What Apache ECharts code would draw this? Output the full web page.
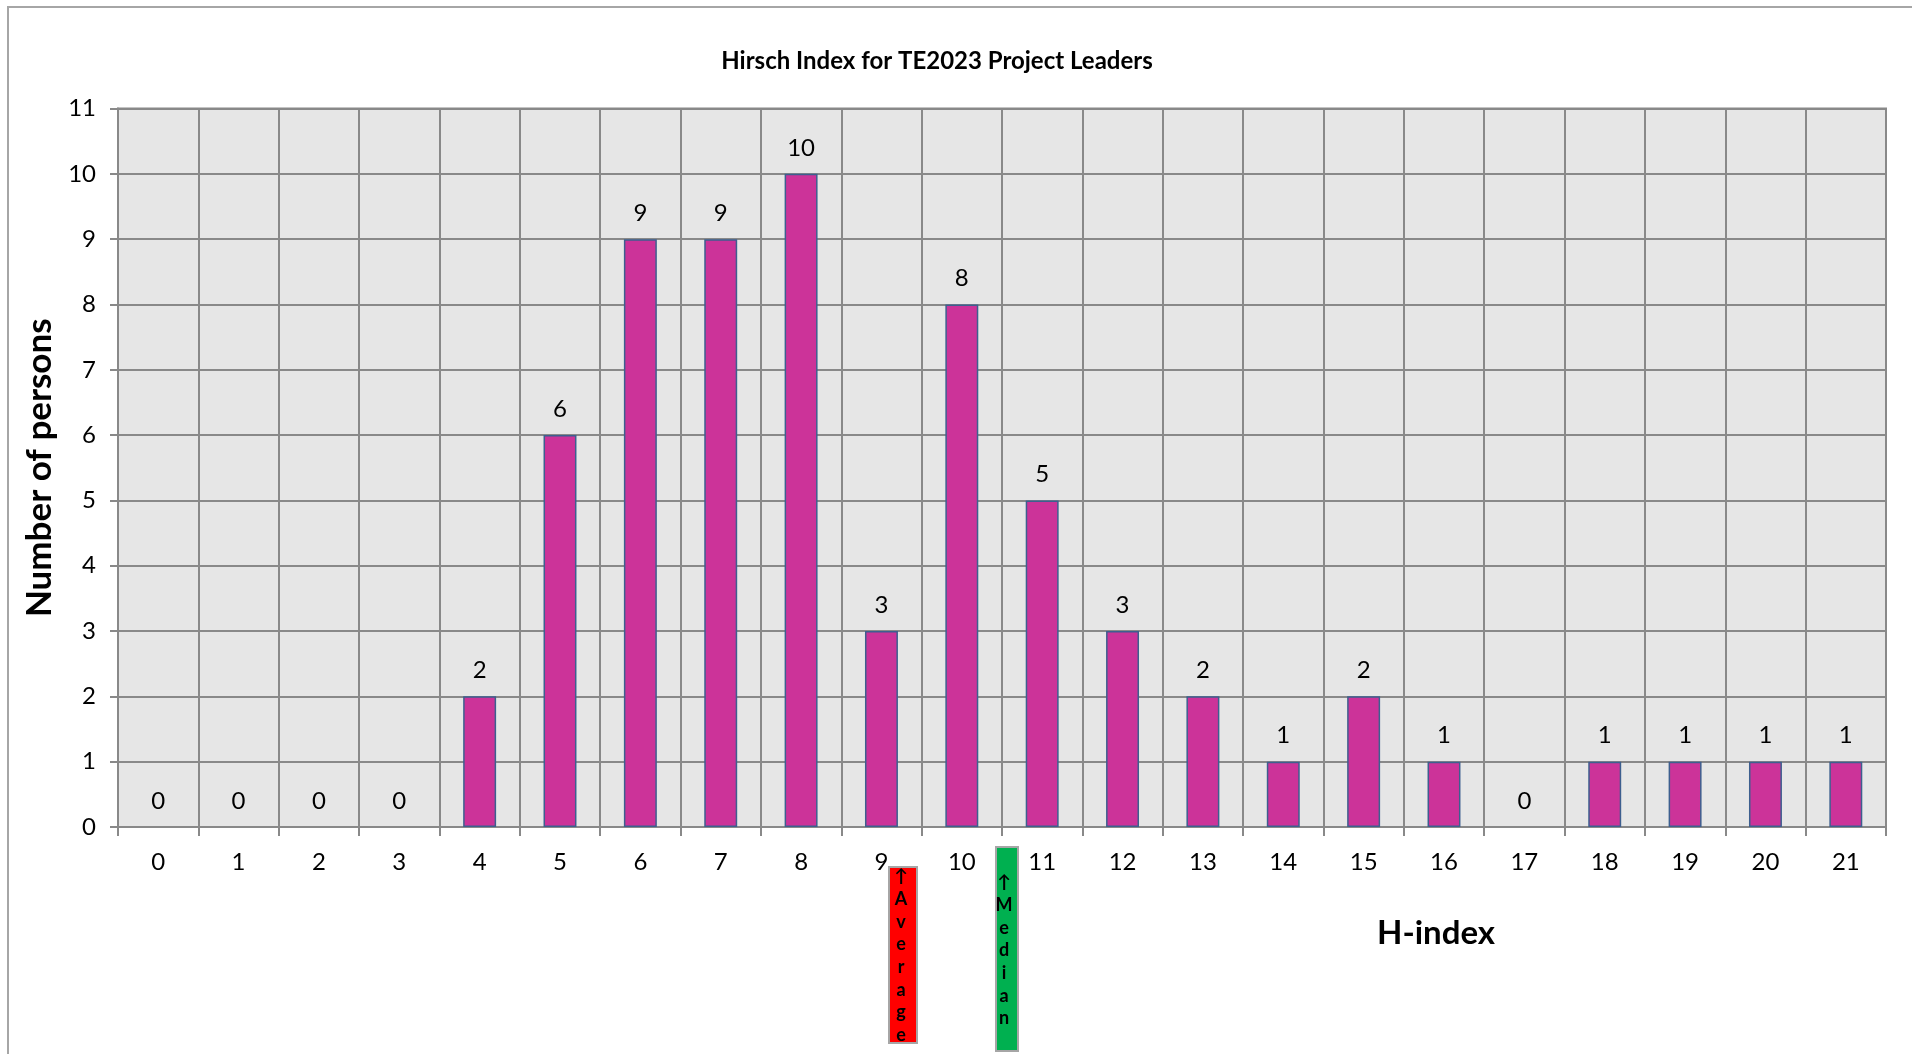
<!DOCTYPE html>
<html>
<head>
<meta charset="utf-8">
<script src="https://cdn.jsdelivr.net/npm/echarts@6/dist/echarts.min.js"></script>
<style>
html,body{margin:0;padding:0;background:#fff;}
#chart{width:1912px;height:1054px;}
</style>
</head>
<body>
<div id="chart"></div>
<script>
// ---- data ----
const hIndexCategories = ['0','1','2','3','4','5','6','7','8','9','10','11','12','13','14','15','16','17','18','19','20','21'];
const personCounts = [0,0,0,0,2,6,9,9,10,3,8,5,3,2,1,2,1,0,1,1,1,1];
const chartTitle = 'Hirsch Index for TE2023 Project Leaders';
const yAxisTitle = 'Number of persons';
const xAxisTitle = 'H-index';
const averageText = ['↑','A','v','e','r','a','g','e'];
const medianText = ['↑','M','e','d','i','a','n'];

const FONT = 'Lato, "Noto Sans", sans-serif';
const GRID = '#898989';

const barData = personCounts.map(v => v === 0 ? {value: v, itemStyle: {borderWidth: 0}} : v);

const chart = echarts.init(document.getElementById('chart'), null, {renderer:'canvas'});
chart.setOption({
  animation: false,
  backgroundColor: '#ffffff',
  title: {
    text: chartTitle,
    left: 932, top: 44, textAlign: 'center',
    textStyle: {fontFamily: FONT, fontSize: 24, fontWeight: 'bold', color: '#000'}
  },
  grid: {
    left: 118, right: 26, top: 108.5, bottom: 227,
    show: true, backgroundColor: '#e6e6e6', borderColor: GRID, borderWidth: 2
  },
  xAxis: {
    type: 'category',
    data: hIndexCategories,
    boundaryGap: true,
    axisLine: {show: true, lineStyle: {color: GRID, width: 2}},
    axisTick: {show: true, interval: 0, length: 9, lineStyle: {color: GRID, width: 2}},
    splitLine: {show: true, interval: 0, lineStyle: {color: GRID, width: 2}},
    axisLabel: {interval: 0, margin: 23, fontFamily: FONT, fontSize: 24, color: '#000'}
  },
  yAxis: {
    type: 'value', min: 0, max: 11, interval: 1,
    name: yAxisTitle, nameLocation: 'middle', nameGap: 60, nameRotate: 90,
    nameTextStyle: {fontFamily: FONT, fontSize: 35, fontWeight: 'bold', color: '#000'},
    axisLine: {show: true, lineStyle: {color: GRID, width: 2}},
    axisTick: {show: true, length: 8, lineStyle: {color: GRID, width: 2}},
    splitLine: {show: true, lineStyle: {color: GRID, width: 2}},
    axisLabel: {margin: 22, fontFamily: FONT, fontSize: 24, color: '#000'}
  },
  series: [{
    type: 'bar',
    data: barData,
    barWidth: '41%',
    itemStyle: {color: '#cc3399', borderColor: '#3d5f8f', borderWidth: 1.5},
    label: {show: true, position: 'top', distance: 14, fontFamily: FONT, fontSize: 24, color: '#000'}
  }],
  graphic: [
    {type: 'rect', shape: {x: 8, y: 7, width: 1930, height: 1100},
     style: {fill: 'none', stroke: '#a6a6a6', lineWidth: 2}, silent: true},
    {type: 'text', left: 1433 - 56, top: 917,
     style: {text: xAxisTitle, font: 'bold 33px ' + FONT, fill: '#000'}},
    {type: 'rect', shape: {x: 889, y: 867, width: 28, height: 176},
     style: {fill: '#ff0000', stroke: '#a6a6a6', lineWidth: 2}},
    {type: 'text', x: 901, y: 865,
     style: {text: averageText.join('\n'), font: 'bold 18px ' + FONT, lineHeight: 22.7,
             fill: '#000', align: 'center', verticalAlign: 'top'}},
    {type: 'rect', shape: {x: 996, y: 847, width: 22, height: 204},
     style: {fill: '#00b050', stroke: '#a6a6a6', lineWidth: 2}},
    {type: 'text', x: 1004, y: 871,
     style: {text: medianText.join('\n'), font: 'bold 18px ' + FONT, lineHeight: 22.7,
             fill: '#000', align: 'center', verticalAlign: 'top'}}
  ]
});
</script>
</body>
</html>
